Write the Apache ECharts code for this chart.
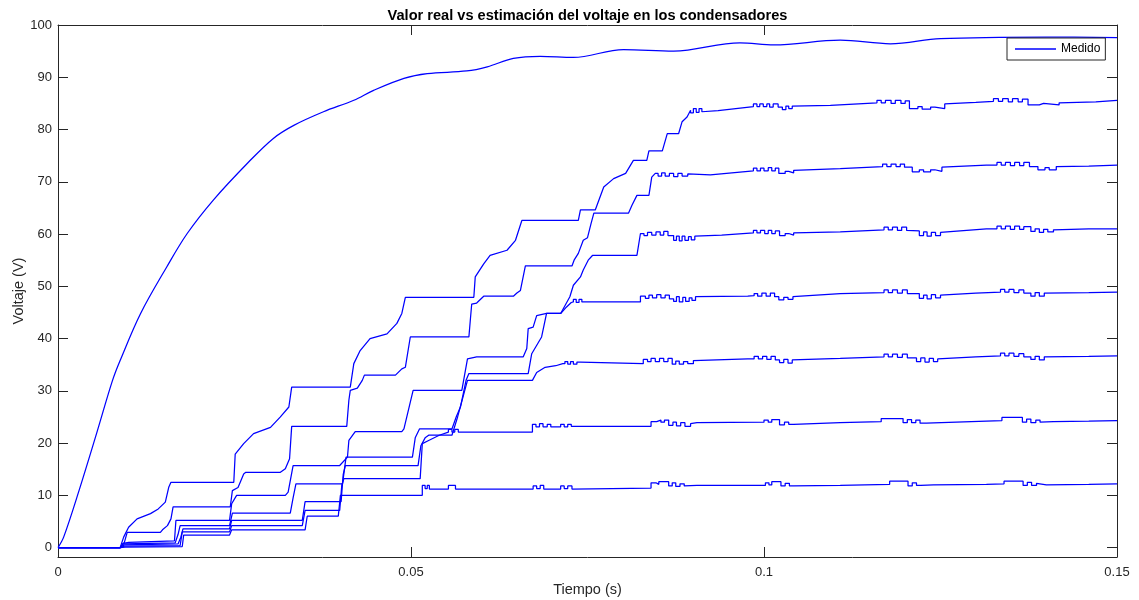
<!DOCTYPE html>
<html>
<head>
<meta charset="utf-8">
<script src="https://cdn.jsdelivr.net/npm/echarts@6/dist/echarts.min.js"></script>
<style>html,body{margin:0;padding:0;background:#fff}#c{width:1139px;height:600px}</style>
</head>
<body>
<div id="c"></div>
<script>
const titleText = 'Valor real vs estimación del voltaje en los condensadores';
const xName = 'Tiempo (s)';
const yName = 'Voltaje (V)';
const xTicks = [0, 0.05, 0.1, 0.15];
const yTicks = [0, 10, 20, 30, 40, 50, 60, 70, 80, 90, 100];

const medido = [[0,0],[0.0008,2],[0.003,11],[0.0055,22],[0.0077,31.9],[0.0088,35.8],[0.0117,44.8],[0.0154,53.7],[0.0183,60.1],[0.022,66.5],[0.0268,73.5],[0.0305,78.3],[0.0334,80.8],[0.0376,83.4],[0.0419,85.6],[0.0447,87.5],[0.049,89.8],[0.0523,90.7],[0.0579,91.2],[0.0608,92.0],[0.0645,93.6],[0.0683,94.0],[0.073,93.8],[0.0801,95.3],[0.0872,95.0],[0.0966,96.6],[0.1014,96.2],[0.1108,97.1],[0.1179,96.4],[0.125,97.4],[0.14,97.7],[0.15,97.6]];

const est7 = [[0,0],[0.0088,0],[0.0093,2.0],[0.0100,3.9],[0.0112,5.5],[0.0131,6.5],[0.0142,7.4],[0.0152,8.7],[0.0157,11.6],[0.0160,12.5],[0.0249,12.5],[0.0251,17.9],[0.0263,19.9],[0.0277,21.8],[0.0301,23.0],[0.0315,25.0],[0.0327,26.9],[0.0331,30.7],[0.0414,30.7],[0.0419,35.2],[0.0428,37.7],[0.0442,40.0],[0.0466,40.9],[0.0480,42.9],[0.0487,44.8],[0.0492,47.9],[0.0589,47.9],[0.0591,51.8],[0.0603,54.3],[0.0612,55.9],[0.0636,56.9],[0.0648,58.8],[0.0657,62.6],[0.0737,62.6],[0.0740,64.6],[0.0761,64.6],[0.0773,69.0],[0.0787,70.6],[0.0804,71.6],[0.0815,74.1],[0.0834,74.1],[0.0837,75.9],[0.0856,75.9],[0.0863,79.2],[0.0879,79.2],[0.0884,81.5],[0.0891,82.4],[0.0896,83.7],[0.0896,83.2],[0.0900,83.2],[0.0900,84.0],[0.0904,84.0],[0.0904,83.3],[0.0908,83.3],[0.0908,84.0],[0.0912,84.0],[0.0912,83.4],[0.0935,83.6],[0.0985,84.4],[0.0985,84.9],[0.0990,84.9],[0.0990,84.4],[0.0994,84.4],[0.0994,84.9],[0.0999,84.9],[0.0999,84.4],[0.1004,84.4],[0.1004,84.9],[0.1008,84.9],[0.1008,84.3],[0.1013,84.3],[0.1013,84.9],[0.1020,84.9],[0.1020,84.3],[0.1026,84.3],[0.1026,83.8],[0.1031,83.8],[0.1031,84.5],[0.1035,84.5],[0.1035,84.0],[0.1040,84.0],[0.1040,84.5],[0.1094,84.6],[0.1160,85.1],[0.1160,85.6],[0.1166,85.6],[0.1166,85.1],[0.1172,85.1],[0.1172,85.6],[0.1180,85.6],[0.1180,85.0],[0.1186,85.0],[0.1186,85.6],[0.1194,85.6],[0.1194,85.0],[0.1200,85.0],[0.1200,85.5],[0.1206,85.5],[0.1206,84.0],[0.1218,84.0],[0.1218,84.4],[0.1224,84.4],[0.1224,83.9],[0.1236,83.9],[0.1236,84.3],[0.1242,84.3],[0.1242,84.0],[0.1256,84.0],[0.1256,84.9],[0.1300,85.2],[0.1325,85.4],[0.1325,85.9],[0.1332,85.9],[0.1332,85.4],[0.1338,85.4],[0.1338,85.9],[0.1346,85.9],[0.1346,85.3],[0.1352,85.3],[0.1352,85.9],[0.1360,85.9],[0.1360,85.3],[0.1366,85.3],[0.1366,85.8],[0.1374,85.8],[0.1374,84.7],[0.1390,84.7],[0.1390,85.0],[0.1396,85.0],[0.1396,84.7],[0.1418,84.7],[0.1418,85.1],[0.1470,85.3],[0.1500,85.6]];

const est6 = [[0,0],[0.0088,0],[0.0094,1.0],[0.0098,2.9],[0.0145,2.9],[0.0148,3.4],[0.0155,4.2],[0.0160,5.5],[0.0163,7.8],[0.0244,7.8],[0.0247,10.9],[0.0255,11.5],[0.0263,14.1],[0.0266,14.4],[0.0315,14.4],[0.0322,15.1],[0.0328,17.0],[0.0331,23.2],[0.0409,23.2],[0.0412,28.2],[0.0414,30.1],[0.0424,30.5],[0.0431,32.0],[0.0434,33.0],[0.0478,33.0],[0.0487,34.2],[0.0492,34.5],[0.0499,40.3],[0.0582,40.3],[0.0584,43.5],[0.0586,46.6],[0.0593,46.8],[0.0603,48.1],[0.0645,48.1],[0.0650,48.7],[0.0655,49.2],[0.0662,53.9],[0.0728,53.9],[0.0731,55.0],[0.0737,56.3],[0.0744,58.8],[0.0750,59.3],[0.0755,62.0],[0.0759,64.0],[0.0808,64.0],[0.0813,65.5],[0.0820,67.4],[0.0837,67.4],[0.0841,70.9],[0.0846,71.6],[0.0850,71.6],[0.0850,71.1],[0.0855,71.1],[0.0855,71.7],[0.0860,71.7],[0.0860,71.1],[0.0866,71.1],[0.0866,71.6],[0.0872,71.6],[0.0872,71.0],[0.0878,71.0],[0.0878,71.6],[0.0884,71.6],[0.0884,71.1],[0.0892,71.1],[0.0892,71.5],[0.0924,71.3],[0.0985,72.1],[0.0985,72.6],[0.0990,72.6],[0.0990,72.1],[0.0995,72.1],[0.0995,72.6],[0.1000,72.6],[0.1000,72.1],[0.1006,72.1],[0.1006,72.7],[0.1011,72.7],[0.1011,72.1],[0.1016,72.1],[0.1016,72.6],[0.1021,72.6],[0.1021,71.6],[0.1030,71.6],[0.1030,72.0],[0.1035,72.0],[0.1035,71.7],[0.1042,71.7],[0.1042,72.2],[0.1108,72.5],[0.1168,72.9],[0.1168,73.4],[0.1174,73.4],[0.1174,72.9],[0.1180,72.9],[0.1180,73.4],[0.1187,73.4],[0.1187,72.9],[0.1193,72.9],[0.1193,73.4],[0.1199,73.4],[0.1199,72.8],[0.1210,72.8],[0.1210,71.9],[0.1220,71.9],[0.1220,72.3],[0.1226,72.3],[0.1226,71.9],[0.1236,71.9],[0.1236,72.3],[0.1242,72.3],[0.1242,72.0],[0.1252,72.0],[0.1252,72.8],[0.1315,73.2],[0.1330,73.2],[0.1330,73.7],[0.1336,73.7],[0.1336,73.2],[0.1342,73.2],[0.1342,73.7],[0.1349,73.7],[0.1349,73.1],[0.1355,73.1],[0.1355,73.7],[0.1362,73.7],[0.1362,73.1],[0.1368,73.1],[0.1368,73.7],[0.1376,73.7],[0.1376,72.9],[0.1388,72.9],[0.1388,72.3],[0.1398,72.3],[0.1398,72.7],[0.1404,72.7],[0.1404,72.3],[0.1414,72.3],[0.1414,72.9],[0.1460,73.0],[0.1500,73.2]];

const est5 = [[0,0],[0.0088,0],[0.0092,0.8],[0.0100,1.0],[0.0165,1.3],[0.0167,5.2],[0.0243,5.2],[0.0246,8.4],[0.0253,10.0],[0.0322,10.0],[0.0326,10.6],[0.0333,15.7],[0.0399,15.7],[0.0410,17.3],[0.0412,20.5],[0.0421,22.2],[0.0487,22.2],[0.0490,22.7],[0.0503,30.1],[0.0572,30.1],[0.0580,36.1],[0.0593,36.5],[0.0659,36.5],[0.0664,38.1],[0.0666,41.9],[0.0673,42.2],[0.0678,44.4],[0.0692,44.8],[0.0712,44.8],[0.0725,48.0],[0.0730,50.2],[0.0740,51.8],[0.0744,53.1],[0.0751,55.0],[0.0757,55.9],[0.0820,55.9],[0.0825,60.1],[0.0830,60.1],[0.0830,59.7],[0.0835,59.7],[0.0835,60.3],[0.0841,60.3],[0.0841,59.8],[0.0847,59.8],[0.0847,60.4],[0.0853,60.4],[0.0853,59.8],[0.0858,59.8],[0.0858,60.5],[0.0864,60.5],[0.0864,59.7],[0.0872,59.7],[0.0872,58.8],[0.0876,58.8],[0.0876,59.6],[0.0880,59.6],[0.0880,58.7],[0.0884,58.7],[0.0884,59.6],[0.0888,59.6],[0.0888,58.8],[0.0893,58.8],[0.0893,59.5],[0.0897,59.5],[0.0897,58.9],[0.0902,58.9],[0.0902,59.6],[0.0940,59.8],[0.0985,60.2],[0.0985,60.7],[0.0990,60.7],[0.0990,60.2],[0.0995,60.2],[0.0995,60.7],[0.1001,60.7],[0.1001,60.1],[0.1006,60.1],[0.1006,60.7],[0.1011,60.7],[0.1011,60.1],[0.1016,60.1],[0.1016,60.6],[0.1022,60.6],[0.1022,59.7],[0.1030,59.7],[0.1030,60.1],[0.1035,60.1],[0.1035,59.8],[0.1042,59.8],[0.1042,60.2],[0.1108,60.4],[0.1170,60.8],[0.1170,61.3],[0.1176,61.3],[0.1176,60.8],[0.1182,60.8],[0.1182,61.3],[0.1189,61.3],[0.1189,60.7],[0.1195,60.7],[0.1195,61.3],[0.1202,61.3],[0.1202,60.7],[0.1220,60.6],[0.1220,59.7],[0.1226,59.7],[0.1226,60.4],[0.1231,60.4],[0.1231,59.6],[0.1237,59.6],[0.1237,60.3],[0.1243,60.3],[0.1243,59.7],[0.1250,59.7],[0.1250,60.3],[0.1315,61.0],[0.1330,61.0],[0.1330,61.5],[0.1336,61.5],[0.1336,61.0],[0.1342,61.0],[0.1342,61.5],[0.1349,61.5],[0.1349,60.9],[0.1355,60.9],[0.1355,61.5],[0.1362,61.5],[0.1362,60.9],[0.1368,60.9],[0.1368,61.4],[0.1378,61.4],[0.1378,60.5],[0.1384,60.5],[0.1384,61.0],[0.1390,61.0],[0.1390,60.3],[0.1396,60.3],[0.1396,60.9],[0.1402,60.9],[0.1402,60.4],[0.1410,60.4],[0.1410,60.8],[0.1460,61.0],[0.1500,61.0]];

const est4 = [[0,0],[0.0088,0],[0.0093,0.7],[0.0166,0.9],[0.0170,2.5],[0.0173,4.2],[0.0243,4.2],[0.0247,6.6],[0.0329,6.6],[0.0333,9.5],[0.0337,12.2],[0.0403,12.2],[0.0408,17.3],[0.0502,17.3],[0.0506,21.0],[0.0512,22.7],[0.0558,22.7],[0.0564,25.0],[0.0570,26.9],[0.0578,32.0],[0.0582,33.3],[0.0666,33.3],[0.0671,37.1],[0.0685,40.3],[0.0692,44.8],[0.0712,44.8],[0.0720,46.0],[0.0727,46.9],[0.0730,47.0],[0.0730,47.5],[0.0734,47.5],[0.0734,46.9],[0.0738,46.9],[0.0738,47.5],[0.0742,47.5],[0.0742,47.0],[0.0825,47.0],[0.0825,48.1],[0.0832,48.1],[0.0832,47.7],[0.0837,47.7],[0.0837,48.3],[0.0842,48.3],[0.0842,47.8],[0.0848,47.8],[0.0848,48.4],[0.0854,48.4],[0.0854,47.8],[0.0860,47.8],[0.0860,48.3],[0.0866,48.3],[0.0866,47.6],[0.0872,47.6],[0.0872,47.1],[0.0876,47.1],[0.0876,48.0],[0.0880,48.0],[0.0880,47.0],[0.0885,47.0],[0.0885,47.9],[0.0889,47.9],[0.0889,47.1],[0.0894,47.1],[0.0894,47.8],[0.0898,47.8],[0.0898,47.3],[0.0903,47.3],[0.0903,48.0],[0.0977,48.1],[0.0986,48.2],[0.0986,48.6],[0.0991,48.6],[0.0991,48.1],[0.0997,48.1],[0.0997,48.7],[0.1003,48.7],[0.1003,48.1],[0.1009,48.1],[0.1009,48.7],[0.1015,48.7],[0.1015,48.0],[0.1021,48.0],[0.1021,47.4],[0.1028,47.4],[0.1028,47.9],[0.1034,47.9],[0.1034,47.5],[0.1041,47.5],[0.1041,48.0],[0.1108,48.6],[0.1170,48.8],[0.1170,49.3],[0.1176,49.3],[0.1176,48.8],[0.1182,48.8],[0.1182,49.3],[0.1189,49.3],[0.1189,48.7],[0.1196,48.7],[0.1196,49.3],[0.1203,49.3],[0.1203,48.6],[0.1220,48.6],[0.1220,47.7],[0.1226,47.7],[0.1226,48.3],[0.1231,48.3],[0.1231,47.6],[0.1237,47.6],[0.1237,48.4],[0.1243,48.4],[0.1243,47.8],[0.1250,47.8],[0.1250,48.3],[0.1300,48.7],[0.1335,48.9],[0.1335,49.4],[0.1341,49.4],[0.1341,48.9],[0.1347,48.9],[0.1347,49.4],[0.1354,49.4],[0.1354,48.8],[0.1361,48.8],[0.1361,49.3],[0.1368,49.3],[0.1368,48.7],[0.1378,48.7],[0.1378,48.1],[0.1384,48.1],[0.1384,48.8],[0.1390,48.8],[0.1390,48.1],[0.1397,48.1],[0.1397,48.7],[0.1460,48.8],[0.1500,48.9]];

const est3 = [[0,0],[0.0088,0],[0.0094,0.5],[0.0170,0.7],[0.0174,2.0],[0.0177,3.6],[0.0243,3.6],[0.0246,5.2],[0.0346,5.2],[0.0350,8.8],[0.0401,8.8],[0.0404,14.0],[0.0407,15.7],[0.0510,15.7],[0.0514,19.5],[0.0520,21.0],[0.0525,21.5],[0.0558,21.5],[0.0566,25.0],[0.0574,29.0],[0.0580,32.0],[0.0672,32.0],[0.0678,33.5],[0.0690,34.5],[0.0705,34.8],[0.0715,35.2],[0.0718,35.2],[0.0718,35.6],[0.0722,35.6],[0.0722,35.1],[0.0726,35.1],[0.0726,35.6],[0.0730,35.6],[0.0730,35.1],[0.0735,35.1],[0.0735,35.5],[0.0740,35.5],[0.0740,35.2],[0.0829,35.2],[0.0829,36.0],[0.0835,36.0],[0.0835,35.6],[0.0840,35.6],[0.0840,36.2],[0.0846,36.2],[0.0846,35.6],[0.0852,35.6],[0.0852,36.2],[0.0858,36.2],[0.0858,35.6],[0.0864,35.6],[0.0864,36.2],[0.0870,36.2],[0.0870,35.1],[0.0875,35.1],[0.0875,35.7],[0.0880,35.7],[0.0880,35.1],[0.0886,35.1],[0.0886,35.6],[0.0892,35.6],[0.0892,35.2],[0.0900,35.2],[0.0900,35.8],[0.0977,36.1],[0.0986,36.1],[0.0986,36.6],[0.0992,36.6],[0.0992,36.1],[0.0998,36.1],[0.0998,36.6],[0.1004,36.6],[0.1004,36.0],[0.1010,36.0],[0.1010,36.6],[0.1016,36.6],[0.1016,35.9],[0.1022,35.9],[0.1022,35.4],[0.1028,35.4],[0.1028,36.0],[0.1034,36.0],[0.1034,35.3],[0.1040,35.3],[0.1040,35.9],[0.1108,36.2],[0.1170,36.5],[0.1170,37.0],[0.1176,37.0],[0.1176,36.5],[0.1182,36.5],[0.1182,37.0],[0.1189,37.0],[0.1189,36.4],[0.1196,36.4],[0.1196,37.0],[0.1203,37.0],[0.1203,36.3],[0.1216,36.3],[0.1216,35.6],[0.1222,35.6],[0.1222,36.3],[0.1228,36.3],[0.1228,35.5],[0.1234,35.5],[0.1234,36.2],[0.1240,36.2],[0.1240,35.6],[0.1246,35.6],[0.1246,36.1],[0.1300,36.5],[0.1335,36.7],[0.1335,37.2],[0.1341,37.2],[0.1341,36.7],[0.1347,36.7],[0.1347,37.2],[0.1354,37.2],[0.1354,36.6],[0.1361,36.6],[0.1361,37.1],[0.1368,37.1],[0.1368,36.5],[0.1378,36.5],[0.1378,36.0],[0.1384,36.0],[0.1384,36.6],[0.1390,36.6],[0.1390,35.9],[0.1397,35.9],[0.1397,36.5],[0.1460,36.6],[0.1500,36.7]];

const est2 = [[0,0],[0.0088,0],[0.0095,0.3],[0.0173,0.4],[0.0176,3.0],[0.0243,3.0],[0.0246,4.2],[0.0346,4.2],[0.0350,7.1],[0.0399,7.1],[0.0402,12.0],[0.0405,13.2],[0.0513,13.2],[0.0516,19.9],[0.0525,20.5],[0.0540,21.5],[0.0553,22.1],[0.0553,22.6],[0.0558,22.6],[0.0558,22.1],[0.0562,22.1],[0.0562,22.6],[0.0567,22.6],[0.0567,22.1],[0.0672,22.1],[0.0672,23.6],[0.0677,23.6],[0.0677,23.1],[0.0682,23.1],[0.0682,23.7],[0.0687,23.7],[0.0687,23.1],[0.0693,23.1],[0.0693,23.6],[0.0698,23.6],[0.0698,23.1],[0.0712,23.1],[0.0712,23.6],[0.0717,23.6],[0.0717,23.1],[0.0722,23.1],[0.0722,23.6],[0.0727,23.6],[0.0727,23.2],[0.0840,23.2],[0.0840,24.1],[0.0848,24.1],[0.0848,24.4],[0.0854,24.4],[0.0854,24.0],[0.0859,24.0],[0.0859,24.4],[0.0865,24.4],[0.0865,23.4],[0.0871,23.4],[0.0871,24.0],[0.0876,24.0],[0.0876,23.3],[0.0882,23.3],[0.0882,23.9],[0.0888,23.9],[0.0888,23.2],[0.0896,23.2],[0.0896,23.7],[0.0905,23.9],[0.1000,24.0],[0.1000,24.4],[0.1006,24.4],[0.1006,24.0],[0.1011,24.0],[0.1011,24.5],[0.1022,24.5],[0.1022,23.5],[0.1029,23.5],[0.1029,24.0],[0.1035,24.0],[0.1035,23.6],[0.1042,23.6],[0.1042,23.9],[0.1108,23.9],[0.1166,24.1],[0.1166,24.7],[0.1197,24.7],[0.1197,23.9],[0.1203,23.9],[0.1203,24.5],[0.1209,24.5],[0.1209,23.9],[0.1215,23.9],[0.1215,24.4],[0.1221,24.4],[0.1221,23.8],[0.1230,23.8],[0.1230,24.1],[0.1315,24.2],[0.1337,24.3],[0.1337,24.9],[0.1366,24.9],[0.1366,24.0],[0.1372,24.0],[0.1372,24.6],[0.1378,24.6],[0.1378,23.9],[0.1385,23.9],[0.1385,24.4],[0.1391,24.4],[0.1391,24.0],[0.1410,24.1],[0.1460,24.2],[0.1500,24.3]];

const est1 = [[0,0],[0.0088,0],[0.0095,0.1],[0.0176,0.2],[0.0178,2.4],[0.0243,2.4],[0.0246,3.4],[0.0350,3.4],[0.0353,6.0],[0.0397,6.0],[0.0400,10.0],[0.0516,10.0],[0.0516,11.9],[0.0520,11.9],[0.0520,11.3],[0.0523,11.3],[0.0523,11.9],[0.0526,11.9],[0.0526,11.2],[0.0553,11.2],[0.0553,11.9],[0.0563,11.9],[0.0563,11.2],[0.0673,11.2],[0.0673,11.8],[0.0678,11.8],[0.0678,11.3],[0.0683,11.3],[0.0683,11.9],[0.0688,11.9],[0.0688,11.2],[0.0712,11.2],[0.0712,11.8],[0.0717,11.8],[0.0717,11.3],[0.0722,11.3],[0.0722,11.8],[0.0728,11.8],[0.0728,11.2],[0.0840,11.4],[0.0840,12.4],[0.0847,12.4],[0.0847,12.1],[0.0851,12.1],[0.0851,12.6],[0.0865,12.6],[0.0865,11.8],[0.0870,11.8],[0.0870,12.4],[0.0875,12.4],[0.0875,11.7],[0.0881,11.7],[0.0881,12.2],[0.0887,12.2],[0.0887,11.8],[0.0905,11.9],[0.1002,11.9],[0.1002,12.4],[0.1007,12.4],[0.1007,12.0],[0.1011,12.0],[0.1011,12.6],[0.1024,12.6],[0.1024,11.8],[0.1030,11.8],[0.1030,12.3],[0.1036,12.3],[0.1036,11.8],[0.1042,11.8],[0.1042,12.0],[0.1108,11.9],[0.1178,12.1],[0.1178,12.7],[0.1204,12.7],[0.1204,11.8],[0.1210,11.8],[0.1210,12.4],[0.1216,12.4],[0.1216,11.9],[0.1222,11.9],[0.1222,12.2],[0.1240,12.0],[0.1315,12.1],[0.1340,12.2],[0.1340,12.7],[0.1367,12.7],[0.1367,11.9],[0.1373,11.9],[0.1373,12.5],[0.1379,12.5],[0.1379,11.9],[0.1386,11.9],[0.1386,12.3],[0.1400,12.0],[0.1460,12.1],[0.1500,12.2]];

const estimates = [est1, est2, est3, est4, est5, est6, est7];

const FONT = '"Liberation Sans", Arial, Helvetica, sans-serif';
const AX = '#262626';
const BLUE = '#0000ff';

const chart = echarts.init(document.getElementById('c'), null, {renderer: 'canvas'});

const lineStyle = {color: BLUE, width: 1.25};
const series = [{
  name: 'Medido', type: 'line', data: medido, showSymbol: false, symbol: 'none',
  smooth: 0.35, lineStyle: lineStyle, itemStyle: {color: BLUE}, z: 3
}];
estimates.forEach((d, i) => {
  series.push({
    name: 'Estimado ' + (i + 1), type: 'line', data: d, showSymbol: false, symbol: 'none',
    lineStyle: lineStyle, itemStyle: {color: BLUE}, z: 2
  });
});

const fmtX = v => String(+v.toFixed(3));

chart.setOption({
  animation: false,
  backgroundColor: '#fff',
  textStyle: {fontFamily: FONT},
  title: {
    text: titleText, left: 587.5, top: 8, textAlign: 'center', padding: 0,
    textStyle: {fontFamily: FONT, fontSize: 14.6, fontWeight: 'bold', color: '#000'}
  },
  legend: {
    data: [{name: 'Medido'}], left: 1007, top: 38, icon: 'rect',
    padding: [4, 5, 4, 8], itemWidth: 41, itemHeight: 1.4,
    borderColor: AX, borderWidth: 1, borderRadius: 0, backgroundColor: '#fff',
    textStyle: {fontFamily: FONT, fontSize: 12, color: '#000', lineHeight: 14}
  },
  grid: {left: 58, right: 22, top: 25, bottom: 43, containLabel: false, outerBoundsMode: 'none'},
  xAxis: [{
    type: 'value', min: 0, max: 0.15, interval: 0.05,
    name: xName, nameLocation: 'middle', nameGap: 25, nameMoveOverlap: false,
    nameTextStyle: {fontFamily: FONT, fontSize: 14.5, color: AX},
    axisLine: {show: true, onZero: false, lineStyle: {color: AX, width: 1}},
    axisTick: {show: true, inside: true, length: 10, lineStyle: {color: AX}, customValues: xTicks},
    axisLabel: {show: true, margin: 9, color: AX, fontSize: 13, fontFamily: FONT, formatter: fmtX, customValues: xTicks, showMinLabel: true, showMaxLabel: true},
    splitLine: {show: false}
  }, {
    type: 'value', position: 'top', min: 0, max: 0.15, interval: 0.05,
    axisLine: {show: true, onZero: false, lineStyle: {color: AX, width: 1}},
    axisTick: {show: true, inside: true, length: 10, lineStyle: {color: AX}, customValues: xTicks},
    axisLabel: {show: false}, splitLine: {show: false}
  }],
  yAxis: [{
    type: 'value', min: -1.8, max: 100,
    name: yName, nameLocation: 'middle', nameGap: 32, nameRotate: 90, nameMoveOverlap: false,
    nameTextStyle: {fontFamily: FONT, fontSize: 14.5, color: AX},
    axisLine: {show: true, onZero: false, lineStyle: {color: AX, width: 1}},
    axisTick: {show: true, inside: true, length: 10, lineStyle: {color: AX}, customValues: yTicks},
    axisLabel: {show: true, margin: 6, color: AX, fontSize: 13, fontFamily: FONT, customValues: yTicks},
    splitLine: {show: false}
  }, {
    type: 'value', position: 'right', min: -1.8, max: 100,
    axisLine: {show: true, onZero: false, lineStyle: {color: AX, width: 1}},
    axisTick: {show: true, inside: true, length: 10, lineStyle: {color: AX}, customValues: yTicks},
    axisLabel: {show: false}, splitLine: {show: false}
  }],
  series: series
});
</script>
</body>
</html>
